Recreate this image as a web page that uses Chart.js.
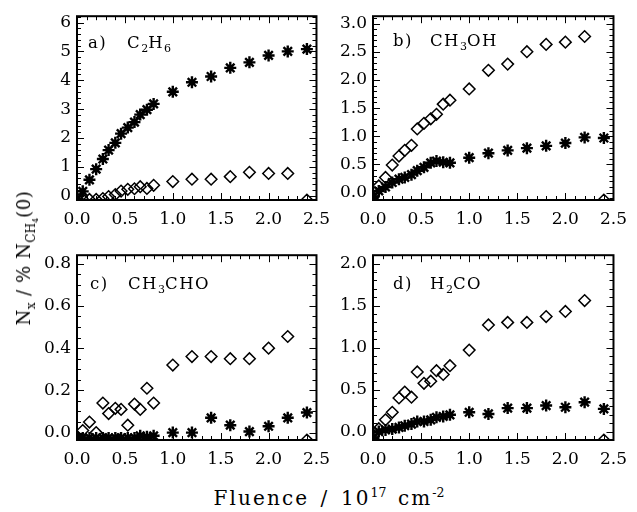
<!DOCTYPE html>
<html>
<head>
<meta charset="utf-8">
<script src="https://cdn.jsdelivr.net/npm/chart.js@4"></script>
<style>
  body { margin: 0; background: #fff; }
  #wrap { position: relative; width: 637px; height: 512px; font-family: "DejaVu Serif", serif; color: #000; overflow: hidden; }
  .panel { position: absolute; }
  .lab { position: absolute; font-size: 16.5px; line-height: 1; letter-spacing: 1.5px; white-space: nowrap; }
  .s { font-size: 11px; position: relative; top: 4px; letter-spacing: 0; }
  .s2 { font-size: 8px; position: relative; top: 3px; }
  .p { font-size: 12.5px; position: relative; top: -8px; letter-spacing: 0; }
  #ytitle { position: absolute; left: 26px; top: 258px; font-size: 18px; line-height: 18px; letter-spacing: 0.6px;
            white-space: nowrap; transform: translate(-50%, -50%) rotate(-90deg); }
  #ytitle .s { font-size: 12px; top: 5px; }
  #xtitle { position: absolute; left: 329px; top: 488px; font-size: 20px; line-height: 1; letter-spacing: 2.1px;
            word-spacing: 3px; white-space: nowrap; transform: translateX(-50%); }
</style>
</head>
<body>
<div id="wrap">
  <div class="panel" style="left:27px;top:0px"><canvas id="pa" width="312" height="230"></canvas></div>
  <div class="panel" style="left:323px;top:0px"><canvas id="pb" width="313" height="230"></canvas></div>
  <div class="panel" style="left:27px;top:239px"><canvas id="pc" width="312" height="231"></canvas></div>
  <div class="panel" style="left:323px;top:239px"><canvas id="pd" width="313" height="231"></canvas></div>

  <div class="lab" style="left:88px;top:35px">a)</div>
  <div class="lab" style="left:127px;top:35px">C<span class="s">2</span>H<span class="s">6</span></div>
  <div class="lab" style="left:393px;top:33px">b)</div>
  <div class="lab" style="left:430px;top:33px">CH<span class="s">3</span>OH</div>
  <div class="lab" style="left:90px;top:275.5px">c)</div>
  <div class="lab" style="left:128px;top:275.5px">CH<span class="s">3</span>CHO</div>
  <div class="lab" style="left:393px;top:276px">d)</div>
  <div class="lab" style="left:430px;top:276px">H<span class="s">2</span>CO</div>

  <div id="ytitle">N<span class="s">x</span> / % N<span class="s">CH<span class="s2">4</span></span>(0)</div>
  <div id="xtitle">Fluence / 10<span class="p">17</span> cm<span class="p">-2</span></div>
</div>

<script>
// fluence (10^17 cm^-2), same for every panel
const fluence = [0, 0.06, 0.13, 0.2, 0.27, 0.33, 0.4, 0.46, 0.53, 0.6, 0.66, 0.73, 0.8,
                 1.0, 1.2, 1.4, 1.6, 1.8, 2.0, 2.2, 2.4];
const xTicks = [0, 0.5, 1, 1.5, 2, 2.5];

// a) C2H6
const c2h6Stars = [-0.1, 0.15, 0.55, 0.92, 1.27, 1.58, 1.83, 2.15, 2.36, 2.55, 2.81, 2.98, 3.18,
                   3.6, 3.93, 4.13, 4.43, 4.62, 4.86, 5.0, 5.08];
const c2h6Diamonds = [-0.1, -0.13, -0.13, -0.13, -0.1, -0.03, 0.04, 0.16, 0.22, 0.24, 0.31, 0.25, 0.36,
                      0.49, 0.57, 0.57, 0.66, 0.81, 0.77, 0.77, -0.15];
const c2h6Ticks = [0, 1, 2, 3, 4, 5, 6];

// b) CH3OH
const ch3ohStars = [-0.08, 0.03, 0.1, 0.18, 0.24, 0.27, 0.32, 0.39, 0.45, 0.53, 0.56, 0.54, 0.53,
                    0.62, 0.7, 0.75, 0.79, 0.83, 0.88, 0.98, 0.97];
const ch3ohDiamonds = [-0.08, 0.12, 0.27, 0.49, 0.65, 0.75, 0.84, 1.13, 1.23, 1.31, 1.39, 1.57, 1.64,
                       1.84, 2.17, 2.28, 2.5, 2.63, 2.67, 2.77, -0.13];
const ch3ohTicks = [0, 0.5, 1, 1.5, 2, 2.5, 3];

// c) CH3CHO
const ch3choStars = [-0.025, -0.025, -0.025, -0.025, -0.025, -0.025, -0.025, -0.025, -0.025, -0.025, -0.015, -0.02, -0.015,
                     0.0, 0.0, 0.07, 0.035, 0.005, 0.03, 0.07, 0.095];
const ch3choDiamonds = [-0.02, 0.01, 0.05, 0.0, 0.14, 0.09, 0.115, 0.11, 0.035, 0.135, 0.11, 0.21, 0.14,
                        0.32, 0.36, 0.36, 0.35, 0.35, 0.4, 0.455, -0.035];
const ch3choTicks = [0, 0.2, 0.4, 0.6, 0.8];

// d) H2CO
const h2coStars = [-0.08, 0.0, 0.02, 0.03, 0.05, 0.07, 0.09, 0.12, 0.12, 0.14, 0.17, 0.18, 0.2,
                   0.23, 0.21, 0.28, 0.28, 0.31, 0.29, 0.35, 0.27];
const h2coDiamonds = [-0.08, 0.035, 0.14, 0.23, 0.4, 0.47, 0.41, 0.71, 0.575, 0.6, 0.725, 0.68, 0.785,
                      0.97, 1.27, 1.3, 1.3, 1.37, 1.43, 1.56, -0.1];
const h2coTicks = [0, 0.5, 1, 1.5, 2];

// inward ticks on all four sides + box, like the IDL plot
const boxTicks = {
  id: 'boxTicks',
  beforeDatasetsDraw(chart, args, opts) {
    const ctx = chart.ctx, a = chart.chartArea;
    const xs = chart.scales.x, ys = chart.scales.y;
    const marks = (scale, major, step) => {
      const out = [];
      const n0 = Math.ceil(scale.min / step - 1e-6), n1 = Math.floor(scale.max / step + 1e-6);
      for (let n = n0; n <= n1; n++) out.push([n * step, 4]);
      major.forEach(v => out.push([v, 7]));
      return out;
    };
    ctx.save();
    ctx.strokeStyle = '#000';
    ctx.lineWidth = 1;
    ctx.beginPath();
    marks(xs, opts.xMajor, opts.xMinor).forEach(([v, len]) => {
      const px = Math.round(xs.getPixelForValue(v)) + 0.5;
      ctx.moveTo(px, a.bottom); ctx.lineTo(px, a.bottom - len);
      ctx.moveTo(px, a.top); ctx.lineTo(px, a.top + len);
    });
    marks(ys, opts.yMajor, opts.yMinor).forEach(([v, len]) => {
      const py = Math.round(ys.getPixelForValue(v)) + 0.5;
      ctx.moveTo(a.left, py); ctx.lineTo(a.left + len, py);
      ctx.moveTo(a.right, py); ctx.lineTo(a.right - len, py);
    });
    ctx.stroke();
    ctx.lineWidth = 2;
    ctx.strokeRect(a.left, a.top, a.right - a.left, a.bottom - a.top);
    ctx.restore();
  }
};

function points(vals) {
  return fluence.map((x, i) => ({ x: x, y: vals[i] }));
}

function makePanel(id, stars, diamonds, yTicks, yMin, yMax, yMinor, digits) {
  const font = { family: 'DejaVu Serif', size: 17 };
  new Chart(document.getElementById(id), {
    type: 'scatter',
    data: {
      datasets: [
        { data: points(diamonds), pointStyle: 'rectRot', pointRadius: 5.8, borderWidth: 1.5,
          borderColor: '#000', backgroundColor: 'rgba(0,0,0,0)', clip: 0 },
        { data: points(stars), pointStyle: 'star', pointRadius: 6, borderWidth: 2.4,
          borderColor: '#000', backgroundColor: '#000', clip: 0 }
      ]
    },
    options: {
      responsive: false,
      animation: false,
      devicePixelRatio: 1,
      layout: { padding: { top: 14, right: 16, left: 0, bottom: 0 } },
      plugins: {
        legend: { display: false },
        tooltip: { enabled: false },
        boxTicks: { xMajor: xTicks, xMinor: 0.1, yMajor: yTicks, yMinor: yMinor }
      },
      scales: {
        x: {
          type: 'linear', min: 0, max: 2.5,
          grid: { display: false, drawTicks: false },
          border: { display: false },
          afterBuildTicks: s => { s.ticks = xTicks.map(v => ({ value: v })); },
          afterFit: s => { s.height = 30; },
          ticks: { font: font, color: '#000', padding: 9, maxRotation: 0, callback: v => v.toFixed(1) }
        },
        y: {
          type: 'linear', min: yMin, max: yMax,
          grid: { display: false, drawTicks: false },
          border: { display: false },
          afterBuildTicks: s => { s.ticks = yTicks.map(v => ({ value: v })); },
          afterFit: s => { s.width = 50; },
          ticks: { font: font, color: '#000', padding: 6, callback: v => v.toFixed(digits) }
        }
      }
    },
    plugins: [boxTicks]
  });
}

makePanel('pa', c2h6Stars, c2h6Diamonds, c2h6Ticks, -0.15, 6.22, 0.2, 0);
makePanel('pb', ch3ohStars, ch3ohDiamonds, ch3ohTicks, -0.13, 3.13, 0.1, 1);
makePanel('pc', ch3choStars, ch3choDiamonds, ch3choTicks, -0.035, 0.84, 0.05, 1);
makePanel('pd', h2coStars, h2coDiamonds, h2coTicks, -0.1, 2.1, 0.1, 1);
</script>
</body>
</html>
